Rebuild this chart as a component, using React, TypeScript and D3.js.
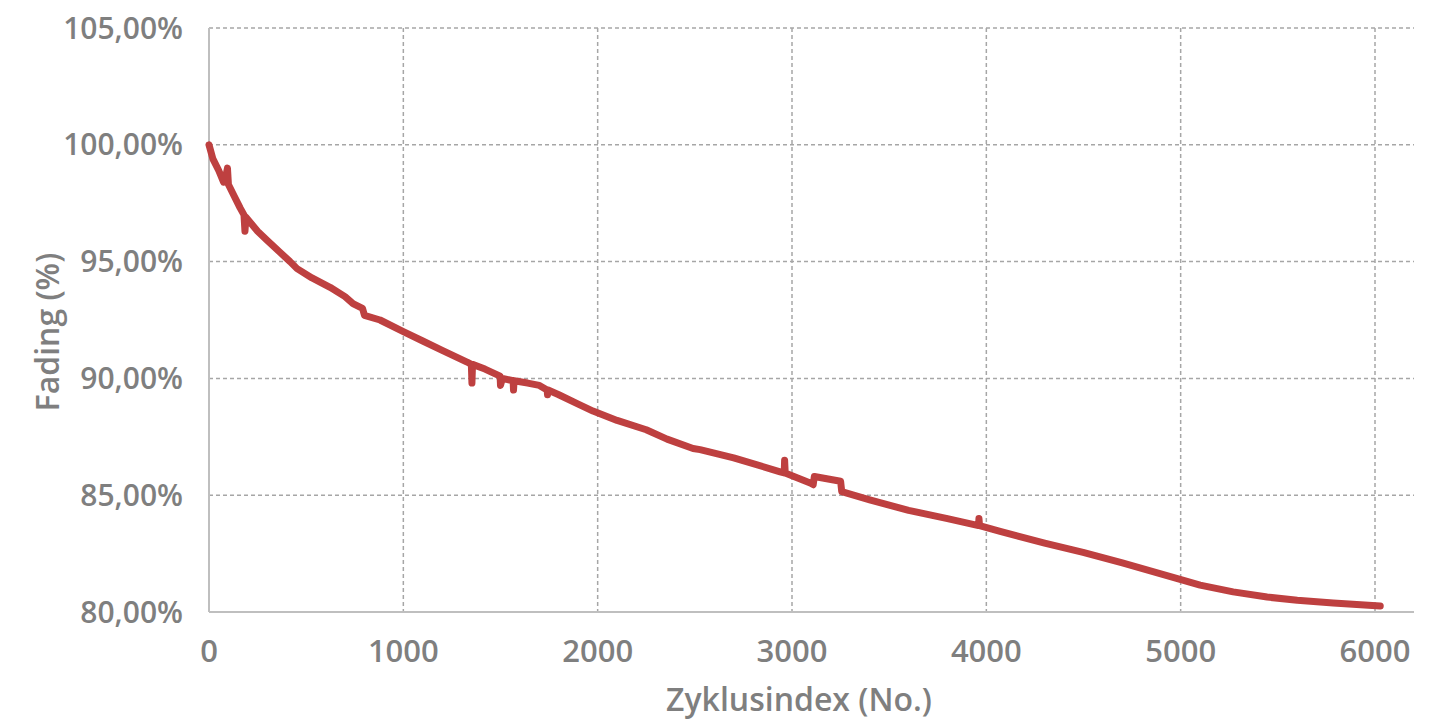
import React from "react";
import * as d3 from "d3";

const cycles: number[] = [
  0, 20, 50, 75, 85, 95, 100, 130, 160, 180, 185, 190, 220, 250, 300, 365, 417, 453, 530, 623,
  700, 741, 790, 800, 880, 1000, 1100, 1200, 1328, 1350, 1353, 1356, 1420, 1498, 1500, 1510,
  1565, 1567, 1570, 1640, 1700, 1740, 1742, 1745, 1800, 1900, 1976, 2100, 2250, 2357, 2491,
  2527, 2700, 2939, 2960, 2962, 2965, 3100, 3109, 3115, 3250, 3256, 3400, 3600, 3800, 3960,
  3962, 3965, 4071, 4300, 4498, 4700, 4997, 5100, 5270, 5445, 5600, 5785, 6027,
];
const fading: number[] = [
  100.0, 99.4, 98.9, 98.4, 98.6, 99.0, 98.3, 97.8, 97.3, 97.0, 96.3, 96.9, 96.6, 96.3, 95.9,
  95.4, 95.0, 94.7, 94.3, 93.9, 93.5, 93.2, 93.0, 92.7, 92.5, 92.0, 91.6, 91.2, 90.7, 90.6,
  89.8, 90.6, 90.4, 90.1, 89.7, 90.0, 89.9, 89.5, 89.9, 89.8, 89.7, 89.5, 89.3, 89.5, 89.3,
  88.9, 88.6, 88.2, 87.8, 87.4, 87.0, 86.95, 86.6, 86.0, 85.95, 86.5, 85.95, 85.5, 85.45,
  85.8, 85.6, 85.15, 84.8, 84.35, 84.0, 83.7, 84.0, 83.7, 83.45, 82.95, 82.55, 82.1, 81.4,
  81.15, 80.86, 80.64, 80.5, 80.39, 80.26,
];
const xTicks: number[] = [0, 1000, 2000, 3000, 4000, 5000, 6000];
const yTicks: number[] = [80, 85, 90, 95, 100, 105];

const W = 1448;
const H = 722;
const left = 209;
const right = 1414;
const top = 28;
const bottom = 612;

export default function App() {
  const x = d3.scaleLinear().domain([0, 6000]).range([left, 1375]);
  const y = d3.scaleLinear().domain([80, 105]).range([bottom, top]);
  const pts = cycles.map((c, i) => [c, fading[i]] as [number, number]);
  const line = d3
    .line<[number, number]>()
    .x((d) => x(d[0]))
    .y((d) => y(d[1]));
  const fmt = (v: number) => v.toFixed(2).replace(".", ",") + "%";
  const font = "'Open Sans', sans-serif";
  const grey = "#7f7f7f";
  return (
    <svg
      width={W}
      height={H}
      style={{ position: "absolute", left: 0, top: 0, background: "#fff" }}
    >
      {yTicks
        .filter((v) => v !== 80)
        .map((v) => (
          <line
            key={"gy" + v}
            x1={left}
            x2={right}
            y1={y(v)}
            y2={y(v)}
            stroke="#a6a6a6"
            strokeWidth={1.5}
            strokeDasharray="4,3"
          />
        ))}
      {xTicks
        .filter((v) => v !== 0)
        .map((v) => (
          <line
            key={"gx" + v}
            x1={x(v)}
            x2={x(v)}
            y1={top}
            y2={bottom}
            stroke="#a6a6a6"
            strokeWidth={1.5}
            strokeDasharray="4,3"
          />
        ))}
      <line x1={left} x2={left} y1={top} y2={bottom} stroke="#bfbfbf" strokeWidth={2} />
      <line x1={left} x2={right} y1={bottom} y2={bottom} stroke="#bfbfbf" strokeWidth={2} />
      <path
        d={line(pts) || ""}
        fill="none"
        stroke="#be4040"
        strokeWidth={7}
        strokeLinejoin="round"
        strokeLinecap="round"
      />
      {yTicks.map((v) => (
        <text
          key={"ty" + v}
          x={183}
          y={y(v)}
          dy="0.35em"
          textAnchor="end"
          fontFamily={font}
          fontWeight={600}
          fontSize={30}
          fill={grey}
        >
          {fmt(v)}
        </text>
      ))}
      {xTicks.map((v) => (
        <text
          key={"tx" + v}
          x={x(v)}
          y={651}
          dy="0.35em"
          textAnchor="middle"
          fontFamily={font}
          fontWeight={600}
          fontSize={31}
          fill={grey}
        >
          {v}
        </text>
      ))}
      <text
        x={799}
        y={700}
        dy="0.35em"
        textAnchor="middle"
        fontFamily={font}
        fontWeight={600}
        fontSize={32}
        fill={grey}
      >
        Zyklusindex (No.)
      </text>
      <text
        transform={`translate(48,332) rotate(-90)`}
        dy="0.35em"
        textAnchor="middle"
        fontFamily={font}
        fontWeight={600}
        fontSize={32}
        fill={grey}
      >
        Fading (%)
      </text>
    </svg>
  );
}
